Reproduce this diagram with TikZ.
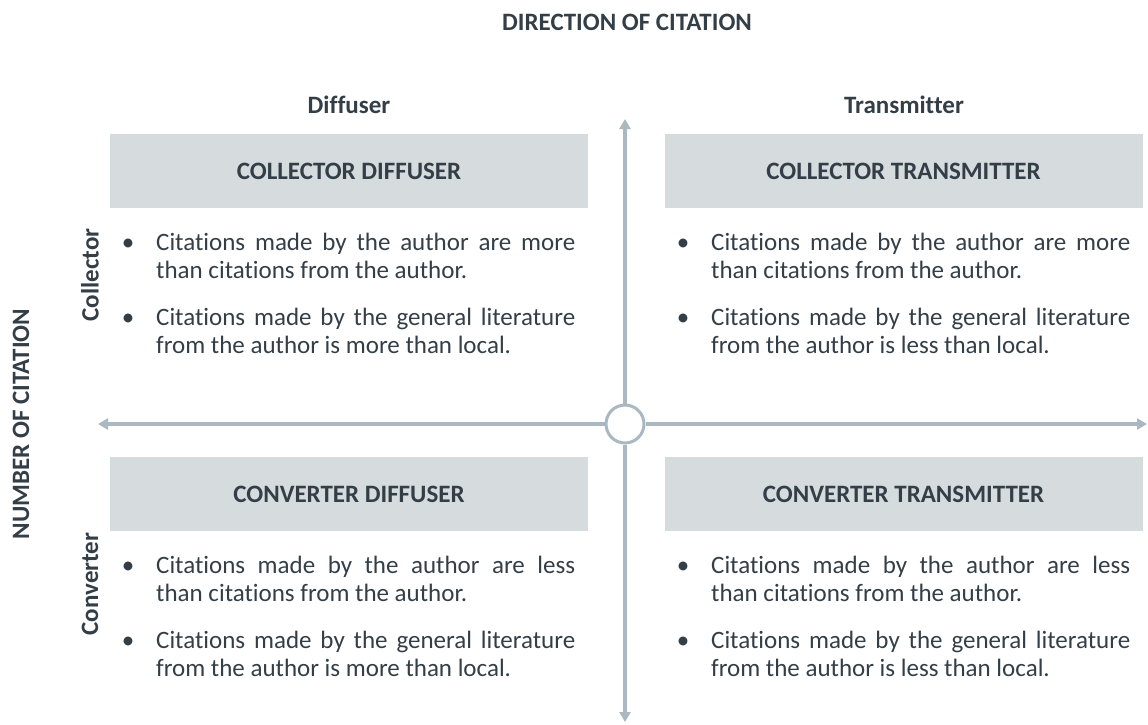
\documentclass[tikz,border=0pt]{standalone}
\usepackage{fontspec}
\setmainfont{Carlito}[Ligatures=NoCommon]
\usetikzlibrary{arrows.meta}
\definecolor{txt}{HTML}{333E47}
\definecolor{boxfill}{HTML}{D6DBDE}
\definecolor{axisc}{HTML}{A9B8C1}
\tikzset{
  hdr/.style={fill=boxfill, minimum width=478pt, minimum height=74pt, inner sep=0pt,
    font=\fontsize{25}{27.5}\selectfont\bfseries, text=txt},
  lbl/.style={font=\fontsize{25}{27.5}\selectfont\bfseries, text=txt, inner sep=0pt},
  para/.style={anchor=north west, inner sep=0pt, text width=419pt, align=justify,
    font=\fontsize{25}{27.5}\selectfont, text=txt},
  axisline/.style={draw=axisc, line width=3.5pt, -{Triangle[length=10pt,width=11pt]}},
  hub/.style={circle, draw=axisc, line width=3pt, fill=white, minimum size=38pt, inner sep=0pt}
}
\newcommand{\bul}{\noindent\strut\llap{\makebox[0pt]{•}\hspace{28pt}}}
\begin{document}
\begin{tikzpicture}[x=1pt,y=-1pt]
\useasboundingbox (0,0) rectangle (1148,724);
% titles
\node[lbl] (title) at (627,22) {DIRECTION OF CITATION};
\node[lbl] (diff) at (349,105) {Diffuser};
\node[lbl] (trans) at (904,105) {Transmitter};
\node[lbl, rotate=90] (numc) at (21,424) {NUMBER OF CITATION};
\node[lbl, rotate=90] (coll) at (90,275) {Collector};
\node[lbl, rotate=90] (conv) at (90,584) {Converter};
% header boxes
\node[hdr] (cd) at (349,171) {COLLECTOR DIFFUSER};
\node[hdr] (ct) at (903.5,171) {COLLECTOR TRANSMITTER};
\node[hdr] (vd) at (349,494) {CONVERTER DIFFUSER};
\node[hdr] (vt) at (903.5,494) {CONVERTER TRANSMITTER};
% paragraphs
\node[para] (cdp) at (156,231.2) {\bul Citations made by the author are more\linebreak than citations from the author.\par\vspace{20pt}\bul Citations made by the general literature\linebreak from the author is more than local.};
\node[para] (ctp) at (711,231.2) {\bul Citations made by the author are more\linebreak than citations from the author.\par\vspace{20pt}\bul Citations made by the general literature\linebreak from the author is less than local.};
\node[para] (vdp) at (156,554.2) {\bul Citations made by the author are less\linebreak than citations from the author.\par\vspace{20pt}\bul Citations made by the general literature\linebreak from the author is more than local.};
\node[para] (vtp) at (711,554.2) {\bul Citations made by the author are less\linebreak than citations from the author.\par\vspace{20pt}\bul Citations made by the general literature\linebreak from the author is less than local.};
% axes
\node[hub] (hub) at (625,424) {};
\coordinate (topend) at (625,119);
\coordinate (botend) at (625,722);
\coordinate (leftend) at (98,424);
\coordinate (rightend) at (1147,424);
\draw[axisline] (hub) -- (topend);
\draw[axisline] (hub) -- (botend);
\draw[axisline] (hub) -- (leftend);
\draw[axisline] (hub) -- (rightend);
\end{tikzpicture}
\end{document}
